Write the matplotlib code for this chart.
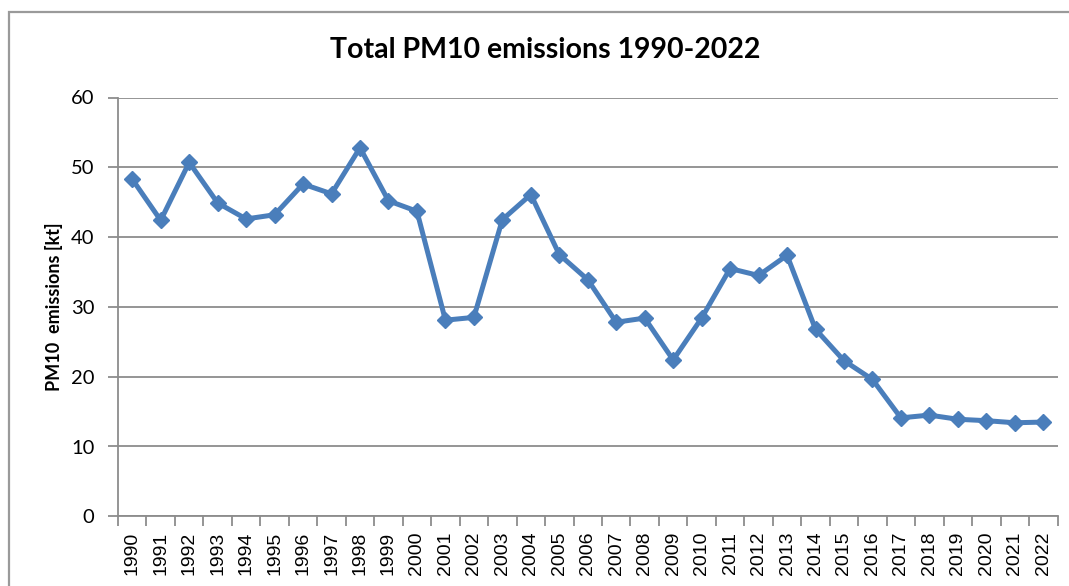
import numpy as np
import matplotlib.pyplot as plt
import matplotlib.patches as mpatches

# PM10 emissions per year [kt]
years = list(range(1990, 2023))
emissions = [48.3, 42.4, 50.7, 44.9, 42.6, 43.2, 47.6, 46.2, 52.8, 45.2,
             43.7, 28.1, 28.5, 42.5, 46.1, 37.5, 33.9, 27.8, 28.4, 22.4,
             28.4, 35.5, 34.5, 37.4, 26.8, 22.3, 19.6, 14.1, 14.5, 13.9,
             13.7, 13.4, 13.5]
y_ticks = [0, 10, 20, 30, 40, 50, 60]

W, H = 1069, 586
LINE_COLOR = "#4A7EBB"
GRID_COLOR = "#8C8C8C"

fig = plt.figure(figsize=(W / 100, H / 100), dpi=100)
fig.patch.set_facecolor("white")

# outer chart-area border (cropped on right and bottom in the reference)
border = mpatches.Rectangle((9 / W, -0.2), 2.0, 1.2 - 12 / H,
                            transform=fig.transFigure, fill=False,
                            edgecolor="#9A9A9A", linewidth=1.6)
fig.patches.append(border)

ax = fig.add_axes([118 / W, 1 - 516.3 / H, (1057.5 - 118) / W, (516.3 - 97.5) / H])

x = np.arange(len(years))
ax.plot(x, emissions, color=LINE_COLOR, linewidth=3.6, marker="D",
        markersize=8.5, markerfacecolor=LINE_COLOR, markeredgecolor=LINE_COLOR,
        zorder=3)

ax.set_xlim(-0.5, len(years) - 0.5)
ax.set_ylim(0, 60)
ax.set_yticks(y_ticks)
ax.set_yticklabels([str(v) for v in y_ticks], fontsize=14.5, family="Lato")
ax.grid(axis="y", color=GRID_COLOR, linewidth=1.3)
ax.set_axisbelow(True)

ax.set_xticks(x)
ax.set_xticklabels([str(y) for y in years], rotation=90, fontsize=14,
                   family="Liberation Sans")
ax.set_xticks(np.arange(len(years) + 1) - 0.5, minor=True)
ax.tick_params(axis="x", which="major", length=0, pad=11)
ax.tick_params(axis="x", which="minor", length=7, color=GRID_COLOR, width=1.3)
ax.tick_params(axis="y", length=7, color=GRID_COLOR, width=1.3, pad=10)

for side in ("top", "right"):
    ax.spines[side].set_visible(False)
for side in ("left", "bottom"):
    ax.spines[side].set_color(GRID_COLOR)
    ax.spines[side].set_linewidth(1.3)

ax.set_ylabel("PM10  emissions [kt]", fontsize=13, fontweight="bold",
              family="Lato", labelpad=6)
fig.text(545 / W, 1 - 50 / H, "Total PM10 emissions 1990-2022", ha="center",
         va="center", fontsize=20.5, fontweight="bold", family="Lato")

fig.savefig("out.png", dpi=100)
